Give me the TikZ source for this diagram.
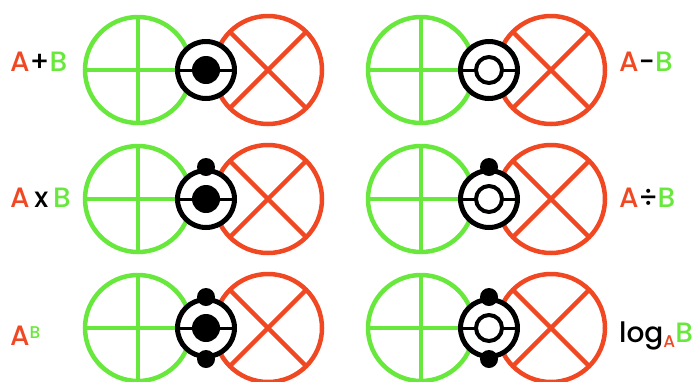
\documentclass[tikz,border=0pt]{standalone}
\usepackage{fontspec}
\setmainfont{Poppins}[BoldFont={Poppins Medium}]
\usetikzlibrary{positioning}

\definecolor{vertA}{RGB}{104,232,60}
\definecolor{rougeB}{RGB}{240,72,34}

\tikzset{
  cercleA/.style={draw=vertA, line width=4.5pt},
  cercleB/.style={draw=rougeB, line width=4.5pt},
  anneau/.style={draw=black, fill=white, line width=5pt},
  plein/.style={fill=black},
  vide/.style={draw=black, fill=white, line width=4pt},
  etiquette/.style={font=\fontsize{28}{28}\selectfont\bfseries, inner sep=0pt, anchor=base west},
}

% un couple de cercles A et B, anneau au point (#1,#2)
\newcommand{\paire}[2]{%
  % cercle A
  \draw[cercleA] (#1-68,#2) circle (53);
  \draw[cercleA] (#1-121,#2) -- (#1-20,#2);
  \draw[cercleA] (#1-68,#2-53) -- (#1-68,#2+53);
  % cercle B
  \draw[cercleB] (#1+62,#2) circle (54);
  \draw[cercleB] (#1+62-38.2,#2-38.2) -- (#1+62+38.2,#2+38.2);
  \draw[cercleB] (#1+62-38.2,#2+38.2) -- (#1+62+38.2,#2-38.2);
  % anneau
  \draw[anneau] (#1,#2) circle (28.5);
  \draw[line width=3pt] (#1-28,#2) -- (#1+28,#2);
}

\begin{document}
\begin{tikzpicture}[x=1pt,y=-1pt]
\useasboundingbox (0,0) rectangle (698,381);

% colonne gauche
\paire{206}{70}
\fill[plein] (206,70) circle (14);
\paire{206}{199}
\fill[plein] (206,199) circle (14);
\fill[plein] (206,167) circle (9);
\paire{206}{328}
\fill[plein] (206,328) circle (14);
\fill[plein] (206,297) circle (9);
\fill[plein] (206,359) circle (9);

% colonne droite
\paire{489}{70}
\draw[vide] (489,70) circle (13);
\paire{489}{199}
\draw[vide] (489,199) circle (13);
\fill[plein] (489,167) circle (9);
\paire{489}{328}
\draw[vide] (489,328) circle (13);
\fill[plein] (489,297) circle (9);
\fill[plein] (489,359) circle (9);

% operations
\node[etiquette] (somme) at (10,71) {\textcolor{rougeB}{A}+\textcolor{vertA}{B}};
\node[etiquette] (diff) at (619,71) {\textcolor{rougeB}{A}-\textcolor{vertA}{B}};
\node[etiquette] (produit) at (10,207) {\textcolor{rougeB}{A}\,x\,\textcolor{vertA}{B}};
\node[etiquette] (quotient) at (619,207) {\textcolor{rougeB}{A}÷\textcolor{vertA}{B}};
\node[etiquette] (puissance) at (10,345) {\textcolor{rougeB}{A}\raisebox{7pt}{\fontsize{17}{17}\selectfont\textcolor{vertA}{B}}};
\node[etiquette] (logarithme) at (619,342) {log\raisebox{-5pt}{\fontsize{17}{17}\selectfont\textcolor{rougeB}{A}}\textcolor{vertA}{B}};
\end{tikzpicture}
\end{document}
